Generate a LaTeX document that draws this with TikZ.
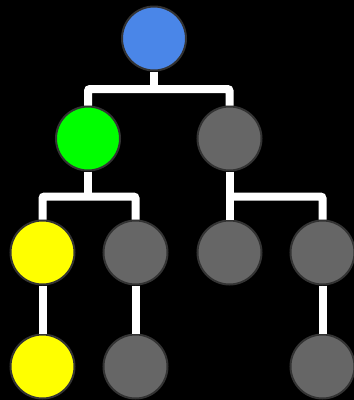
\documentclass[tikz,border=0pt]{standalone}
\usepackage{xcolor}
\usepackage{tikz}
\usetikzlibrary{positioning}
\definecolor{rootblue}{HTML}{4A86E8}
\definecolor{leafgreen}{HTML}{00FF00}
\definecolor{pathyellow}{HTML}{FFFF00}
\definecolor{nodegray}{HTML}{666666}
\definecolor{rimgray}{HTML}{333333}

\begin{document}
\begin{tikzpicture}[x=1pt,y=-1pt,
  vertex/.style={circle,draw=rimgray,line width=2pt,minimum size=64pt,inner sep=0pt},
  edge/.style={white,line width=8pt,rounded corners=2pt}]
  \fill[black] (0,0) rectangle (354,400);
  \useasboundingbox (0,0) rectangle (354,400);
  % the tree
  \node[vertex,fill=rootblue]   (root) at (154,38.5) {};
  \node[vertex,fill=leafgreen]  (l)    at (88,138.5) {};
  \node[vertex,fill=nodegray]   (r)    at (229.5,138.5) {};
  \node[vertex,fill=pathyellow] (ll)   at (42.5,252.5) {};
  \node[vertex,fill=nodegray]   (lr)   at (135.5,252.5) {};
  \node[vertex,fill=nodegray]   (rl)   at (229.5,252.5) {};
  \node[vertex,fill=nodegray]   (rr)   at (322.5,252.5) {};
  \node[vertex,fill=pathyellow] (lll)  at (42.5,366.5) {};
  \node[vertex,fill=nodegray]   (lrl)  at (135.5,366.5) {};
  \node[vertex,fill=nodegray]   (rrl)  at (322.5,366.5) {};
  % junctions
  \coordinate (jroot) at (154,89);
  \coordinate (jl) at (88,196.5);
  \coordinate (jr) at (229.5,196.5);
  \draw[edge] (root.south) -- (jroot);
  \draw[edge] (l.north) |- (jroot) -| (r.north);
  \draw[edge] (l.south) -- (jl);
  \draw[edge] (ll.north) |- (jl) -| (lr.north);
  \draw[edge] (r.south) -- (rl.north);
  \draw[edge] (jr) -| (rr.north);
  \draw[edge] (ll.south) -- (lll.north);
  \draw[edge] (lr.south) -- (lrl.north);
  \draw[edge] (rr.south) -- (rrl.north);
\end{tikzpicture}
\end{document}
